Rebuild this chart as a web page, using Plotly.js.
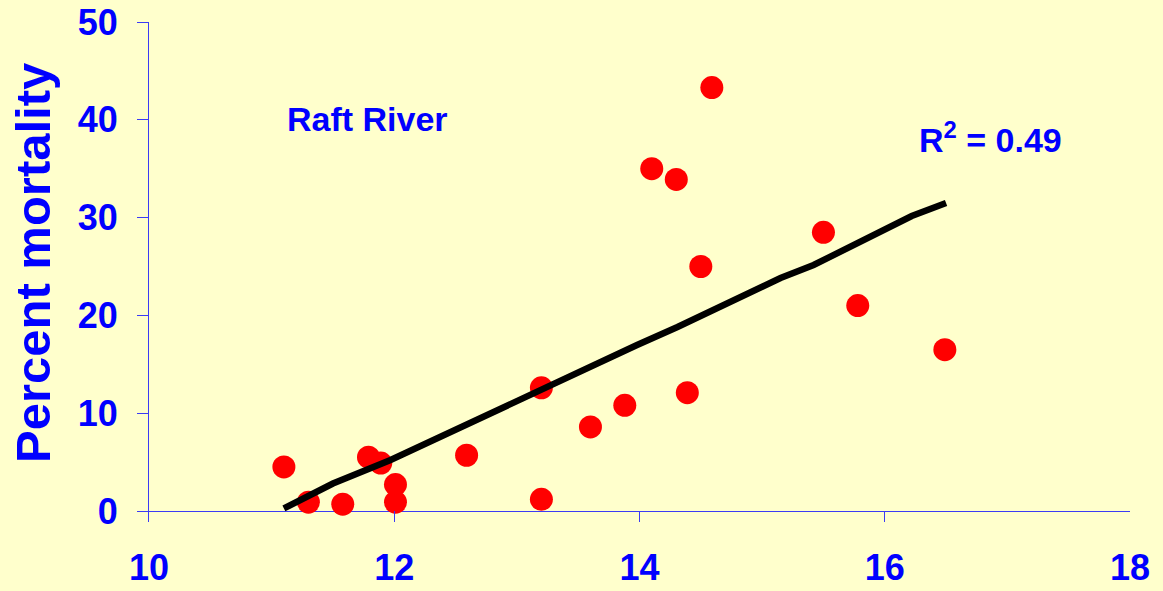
<!DOCTYPE html>
<html>
<head>
<meta charset="utf-8">
<script src="https://cdn.plot.ly/plotly-3.0.1.min.js"></script>
<style>
  html, body { margin: 0; padding: 0; background: #FFFFCC; }
  #chart { width: 1163px; height: 591px; }
</style>
</head>
<body>
<div id="chart"></div>
<script>
var temperature = [11.10, 11.30, 11.58, 11.79, 11.89, 12.01, 12.01, 12.59, 13.20, 13.20,
                   13.60, 13.88, 14.10, 14.30, 14.39, 14.50, 14.59, 15.50, 15.78, 16.49];
var mortality   = [4.5, 0.9, 0.7, 5.5, 4.9, 2.7, 0.9, 5.7, 12.6, 1.2,
                   8.6, 10.8, 35.0, 33.9, 12.1, 25.0, 43.3, 28.5, 21.0, 16.5];

// Trend line as drawn in the reference
var trendX = [11.10, 11.50, 11.97, 12.32, 12.58, 12.84, 13.13, 13.37, 13.62, 13.98,
              14.31, 14.82, 15.15, 15.42, 15.64, 15.92, 16.22, 16.50];
var trendY = [0.26, 2.81, 5.21, 7.26, 8.90, 10.43, 12.07, 13.50, 14.83, 16.97,
              18.81, 21.88, 23.82, 25.15, 26.48, 28.22, 30.16, 31.49];

var xTicks = [10, 12, 14, 16, 18];
var yTicks = [0, 10, 20, 30, 40, 50];

var yTitle = 'Percent mortality';
var siteLabel = 'Raft River';
var r2Label = 'R<sup>2</sup> = 0.49';

var BLUE = '#0000FF';
var AXIS = '#3b3bf5';
var FONT = 'Liberation Sans, Arial, sans-serif';

var traces = [
  {
    x: temperature, y: mortality, type: 'scatter', mode: 'markers',
    marker: { color: '#FF0000', size: 23, line: { width: 0 } },
    hoverinfo: 'x+y', showlegend: false
  },
  {
    x: trendX, y: trendY, type: 'scatter', mode: 'lines',
    line: { color: '#000000', width: 6.5 },
    hoverinfo: 'skip', showlegend: false
  }
];

var layout = {
  width: 1163, height: 591,
  paper_bgcolor: '#FFFFCC', plot_bgcolor: '#FFFFCC',
  margin: { l: 149, r: 33, t: 22, b: 69, pad: 0 },
  showlegend: false,
  font: { family: FONT, color: BLUE },
  xaxis: {
    range: [10, 18], tickvals: xTicks, ticktext: xTicks.map(String),
    ticks: 'inside', ticklen: 11, tickwidth: 1, tickcolor: AXIS,
    showline: false, showgrid: false, zeroline: false,
    tickfont: { family: FONT, size: 36, color: BLUE, weight: 'bold' },
    ticklabelstandoff: 21, automargin: false, fixedrange: true
  },
  yaxis: {
    range: [-1.125, 50], tickvals: yTicks, ticktext: yTicks.map(String),
    ticks: 'outside', ticklen: 11, tickwidth: 1, tickcolor: AXIS,
    showline: true, linecolor: AXIS, linewidth: 1,
    showgrid: false, zeroline: true, zerolinecolor: AXIS, zerolinewidth: 1,
    tickfont: { family: FONT, size: 36, color: BLUE, weight: 'bold' },
    ticklabelstandoff: 12, automargin: false, fixedrange: true
  },
  annotations: [
    {
      text: yTitle, xref: 'paper', yref: 'paper', x: 0, y: 0.5,
      xshift: -116, yshift: 9, xanchor: 'center', yanchor: 'middle',
      textangle: -90, showarrow: false,
      font: { family: FONT, size: 49, color: BLUE, weight: 'bold' }
    },
    {
      text: siteLabel, xref: 'paper', yref: 'paper', x: 0.2232, y: 0.806,
      xanchor: 'center', yanchor: 'middle', showarrow: false,
      font: { family: FONT, size: 34, color: BLUE, weight: 'bold' }
    },
    {
      text: r2Label, xref: 'paper', yref: 'paper', x: 0.858, y: 0.77,
      xanchor: 'center', yanchor: 'middle', showarrow: false,
      font: { family: FONT, size: 34, color: BLUE, weight: 'bold' }
    }
  ]
};

Plotly.newPlot('chart', traces, layout, { displayModeBar: false, staticPlot: true });
</script>
</body>
</html>
